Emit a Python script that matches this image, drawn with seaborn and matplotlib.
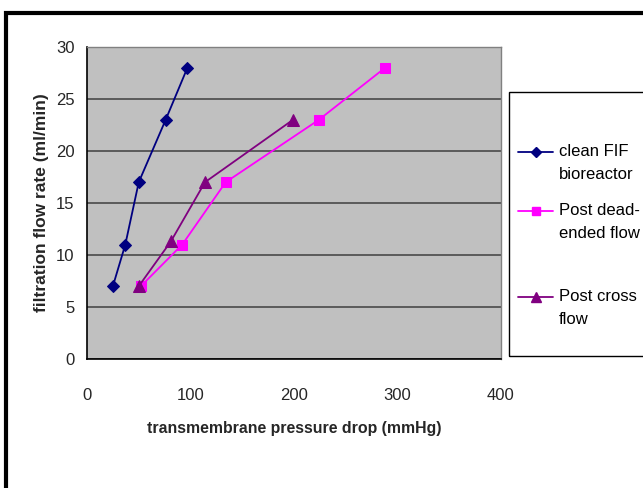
import matplotlib
matplotlib.use("Agg")
import matplotlib.pyplot as plt
from matplotlib.patches import Rectangle
from matplotlib.lines import Line2D
import seaborn as sns
import pandas as pd

clean_x = [25, 37, 50, 76, 97]
clean_y = [7, 11, 17, 23, 28]
dead_x = [52, 92, 134, 224, 288]
dead_y = [7, 11, 17, 23, 28]
cross_x = [50, 81, 114, 199]
cross_y = [7, 11.3, 17, 23]

series_names = ["clean FIF\nbioreactor", "Post dead-\nended flow", "Post cross\nflow"]
colors = ["#000080", "#FF00FF", "#800080"]
markers = ["D", "s", "^"]
msizes = [6, 7, 8]

x_ticks = [0, 100, 200, 300, 400]
y_ticks = [0, 5, 10, 15, 20, 25, 30]

sns.set_style("white")
plt.rcParams['font.family'] = ['Liberation Sans', 'DejaVu Sans']

W, H = 643, 488
fig = plt.figure(figsize=(W/100, H/100), dpi=100)
ax = fig.add_axes([87/W, 1-359/H, (501-87)/W, (359-47)/H])
ax.set_facecolor("#C0C0C0")

df = pd.concat([
    pd.DataFrame({"x": clean_x, "y": clean_y, "s": series_names[0]}),
    pd.DataFrame({"x": dead_x, "y": dead_y, "s": series_names[1]}),
    pd.DataFrame({"x": cross_x, "y": cross_y, "s": series_names[2]}),
])

for name, c, m, ms in zip(series_names, colors, markers, msizes):
    sub = df[df["s"] == name]
    sns.lineplot(data=sub, x="x", y="y", ax=ax, color=c, marker=m, markersize=ms,
                 markeredgecolor=c, linewidth=1.3, sort=False, estimator=None, zorder=3)

ax.set_xlim(0, 400)
ax.set_ylim(0, 30)
ax.set_xticks(x_ticks)
ax.set_yticks(y_ticks)
ax.tick_params(axis="x", direction="out", length=4, width=1, color="black",
               labelsize=12, pad=17)
ax.tick_params(axis="y", direction="out", length=4, width=1, color="black",
               labelsize=12, pad=5)
ax.grid(axis="y", color="#404040", linewidth=1.1, zorder=1)
ax.set_axisbelow(True)
for sp in ["top", "right"]:
    ax.spines[sp].set_color("#808080")
    ax.spines[sp].set_linewidth(1)
for sp in ["left", "bottom"]:
    ax.spines[sp].set_color("black")
    ax.spines[sp].set_linewidth(1.2)

ax.set_xlabel("transmembrane pressure drop (mmHg)", fontsize=11.4, fontweight="bold", labelpad=13)
ax.set_ylabel("filtration flow rate (ml/min)", fontsize=12.5, fontweight="bold", labelpad=5)

# figure border
fig.patches.append(Rectangle((6/W, -0.1), 1.2, 1 - 13/H + 0.1, transform=fig.transFigure,
                             fill=False, edgecolor="black", linewidth=3, zorder=0))

# legend frame
fig.patches.append(Rectangle((509/W, 1-356/H), 0.3, (356-92)/H, transform=fig.transFigure,
                             fill=False, edgecolor="black", linewidth=1, zorder=0))

# legend entries (handle aligned with first text line, as in the reference)
entry_y = [152, 211, 297]
for name, c, m, ms, yy in zip(series_names, colors, markers, msizes, entry_y):
    fy = 1 - yy/H
    fig.add_artist(Line2D([518/W, 553/W], [fy, fy], transform=fig.transFigure,
                          color=c, linewidth=1.3))
    fig.add_artist(Line2D([536/W], [fy], transform=fig.transFigure, color=c,
                          marker=m, markersize=ms-1, markeredgecolor=c, linestyle="none"))
    fig.text(559/W, fy + 8/H, name, transform=fig.transFigure, fontsize=12,
             va="top", ha="left", linespacing=1.65, color="black")

fig.savefig("out.png", dpi=100)
